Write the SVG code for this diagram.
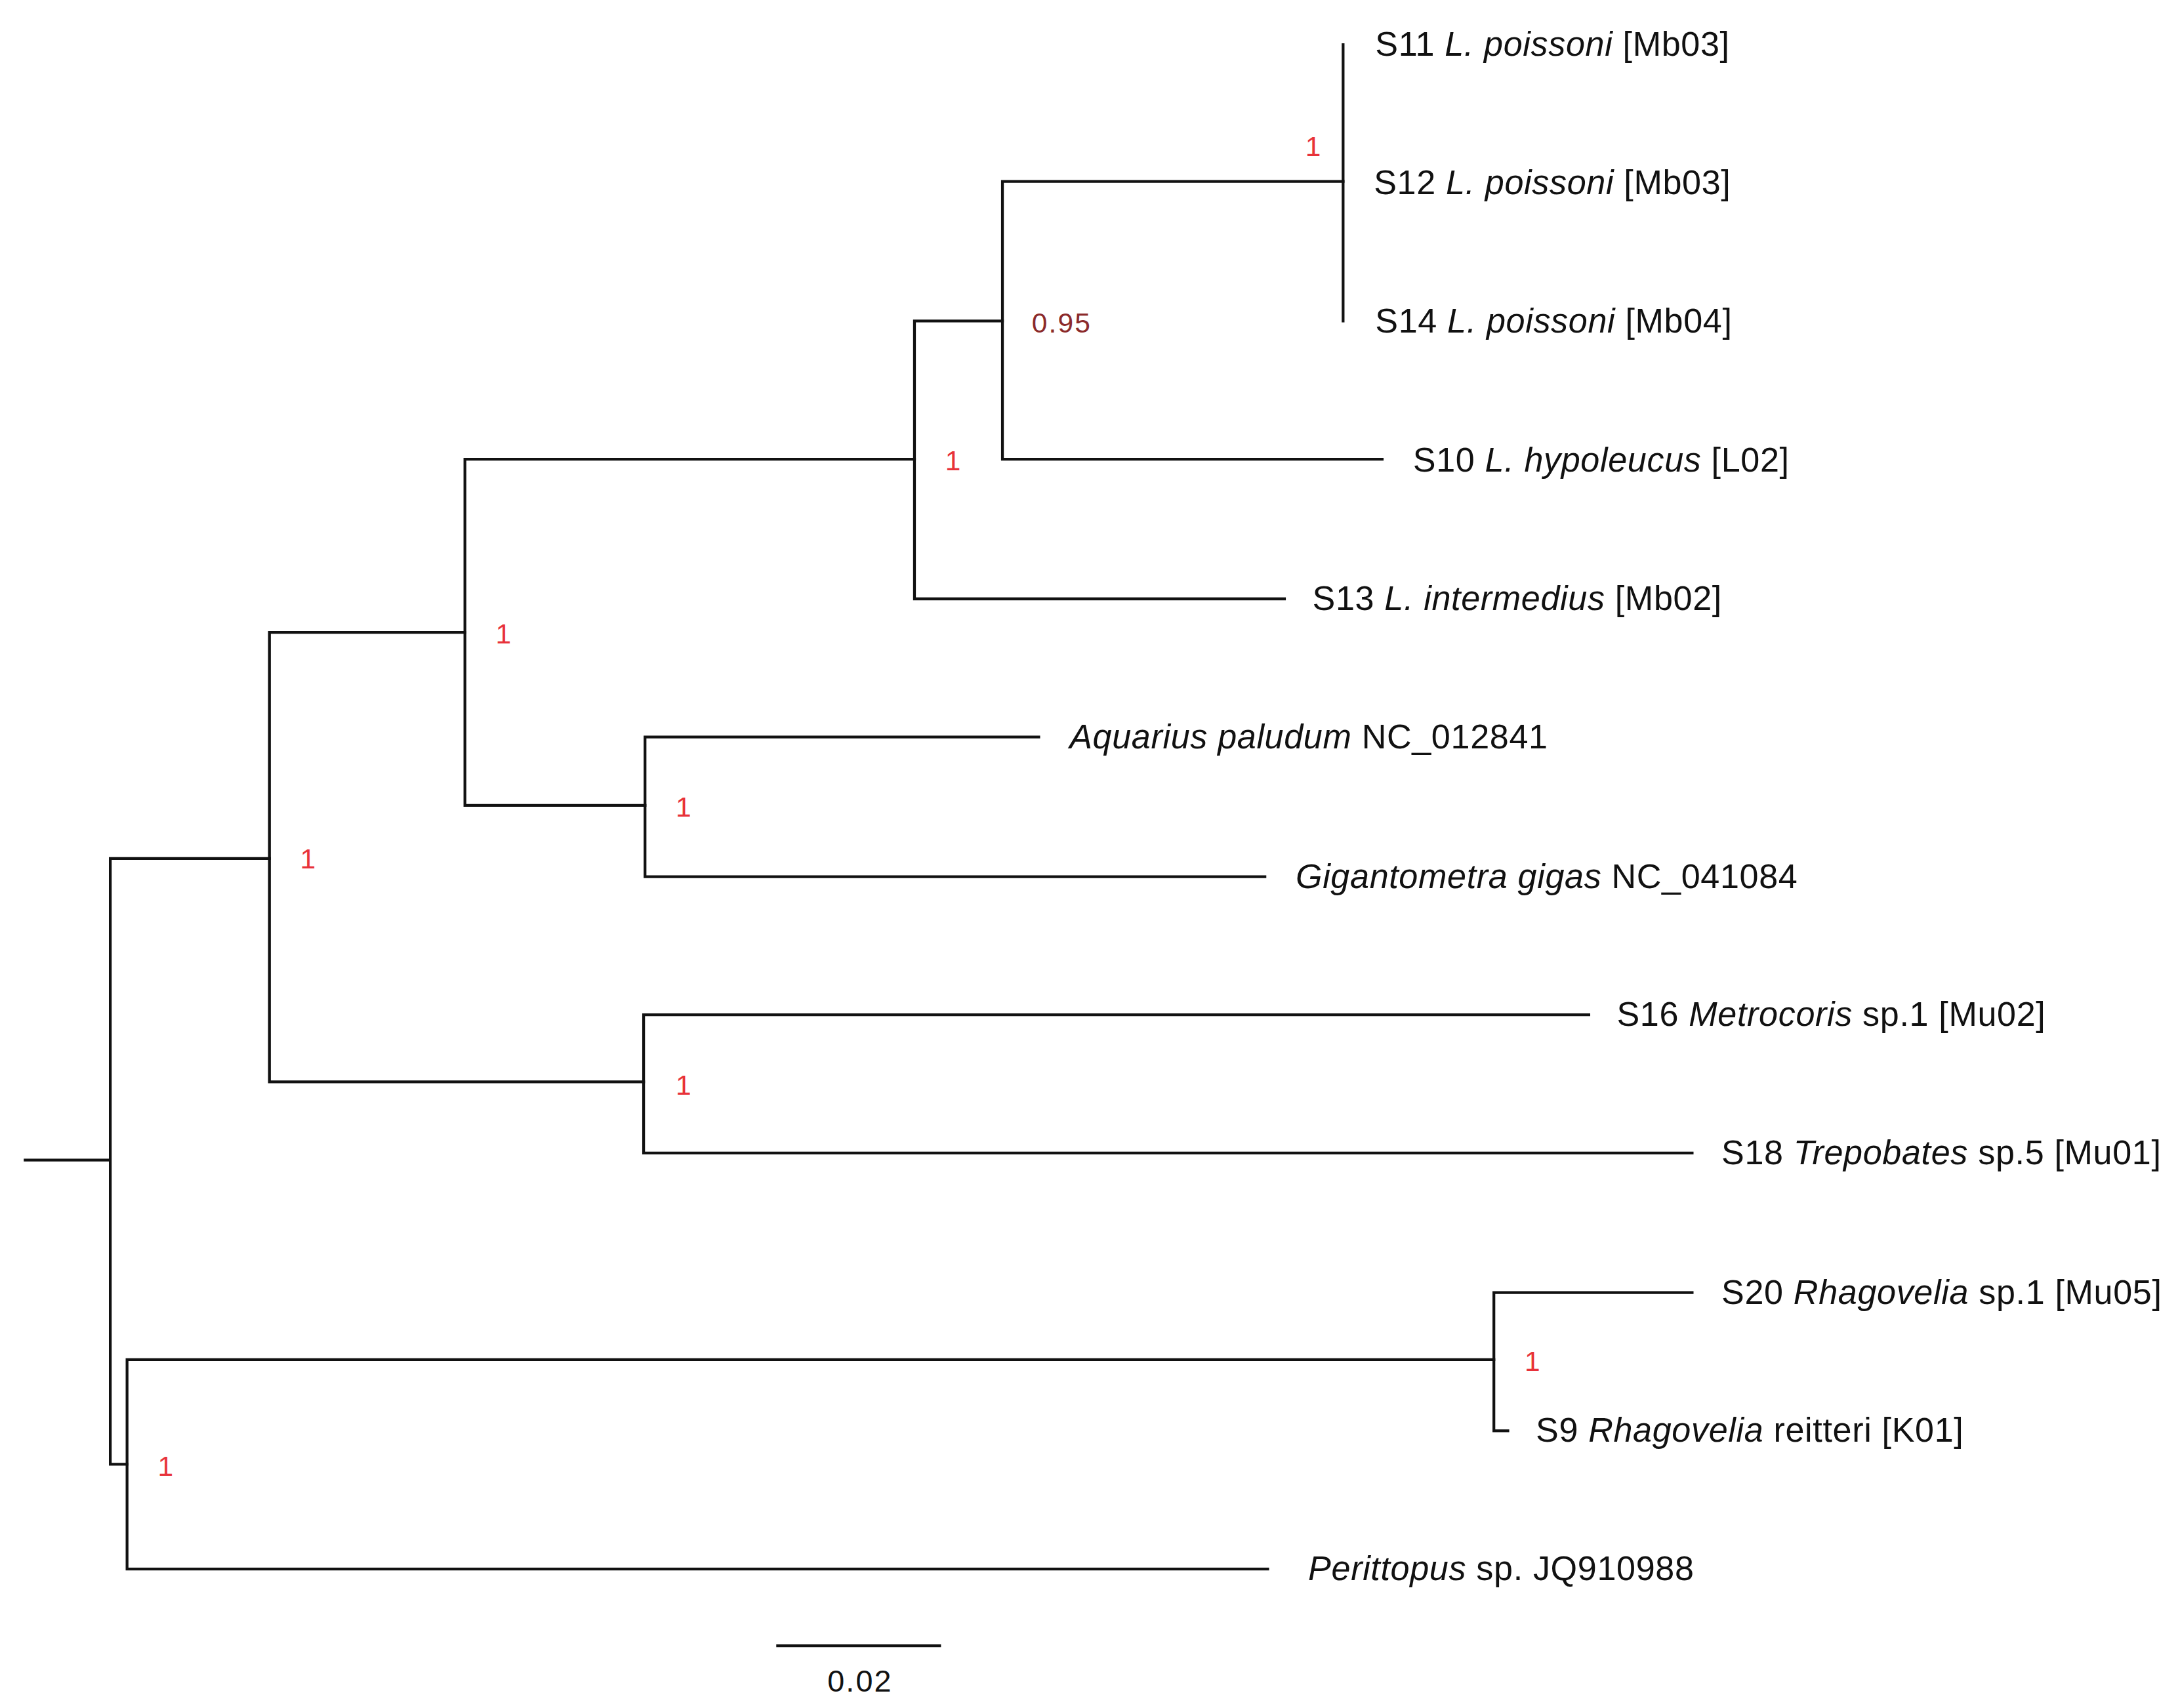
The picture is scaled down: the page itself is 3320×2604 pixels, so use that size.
<svg xmlns="http://www.w3.org/2000/svg" width="3320" height="2604" viewBox="0 0 3320 2604">
<style>
.br{stroke:#111;stroke-width:2;fill:none;stroke-linecap:square}
.lb{font-family:"Liberation Sans",Arial,sans-serif;font-size:24.5px;fill:#111;letter-spacing:0.3px}
.sp{font-family:"Liberation Sans",Arial,sans-serif;font-size:20px;fill:#e8323a;letter-spacing:1px}
.it{font-style:italic}
</style>
<rect width="3320" height="2604" fill="#fff"/>
<g transform="scale(2.1282)">
<g id="connectors" class="br">
<path d="M18,831H79M79,615V1049M79,615H193M79,1049H91"/>
<path d="M193,453V775M193,453H333M193,775H461"/>
<path d="M333,329V577M333,329H655M333,577H462"/>
<path d="M655,230V429M655,230H718M655,429H920"/>
<path d="M718,130V329M718,130H962M718,329H990"/>
<path d="M962,32V230"/>
<path d="M462,528V628M462,528H744M462,628H906"/>
<path d="M461,727V826M461,727H1138M461,826H1212"/>
<path d="M91,974V1124M91,974H1070M91,1124H908"/>
<path d="M1070,926V1025M1070,926H1212M1070,1025H1080"/>
<path d="M557,1179H673"/>
</g>
<g id="n-S11"><text class="lb" x="985" y="40">S11 <tspan class="it">L. poissoni</tspan> [Mb03]</text></g>
<g id="n-S12"><text class="lb" x="984" y="139">S12 <tspan class="it">L. poissoni</tspan> [Mb03]</text></g>
<g id="n-S14"><text class="lb" x="985" y="238">S14 <tspan class="it">L. poissoni</tspan> [Mb04]</text></g>
<g id="n-S10"><text class="lb" x="1012" y="338">S10 <tspan class="it">L. hypoleucus</tspan> [L02]</text></g>
<g id="n-S13"><text class="lb" x="940" y="437">S13 <tspan class="it">L. intermedius</tspan> [Mb02]</text></g>
<g id="n-Aq"><text class="lb" x="766" y="536"><tspan class="it">Aquarius paludum</tspan> NC_012841</text></g>
<g id="n-Gi"><text class="lb" x="928" y="636"><tspan class="it">Gigantometra gigas</tspan> NC_041084</text></g>
<g id="n-S16"><text class="lb" x="1158" y="735">S16 <tspan class="it">Metrocoris</tspan> sp.1 [Mu02]</text></g>
<g id="n-S18"><text class="lb" x="1233" y="834">S18 <tspan class="it">Trepobates</tspan> sp.5 [Mu01]</text></g>
<g id="n-S20"><text class="lb" x="1233" y="934">S20 <tspan class="it">Rhagovelia</tspan> sp.1 [Mu05]</text></g>
<g id="n-S9"><text class="lb" x="1100" y="1033">S9 <tspan class="it">Rhagovelia</tspan> reitteri [K01]</text></g>
<g id="n-Pe"><text class="lb" x="937" y="1132"><tspan class="it">Perittopus</tspan> sp. JQ910988</text></g>
<g id="supports">
<text class="sp" x="935" y="112">1</text>
<text class="sp" x="739" y="238" style="fill:#8b2a2a">0.95</text>
<text class="sp" x="677" y="337">1</text>
<text class="sp" x="355" y="461">1</text>
<text class="sp" x="484" y="585">1</text>
<text class="sp" x="215" y="622">1</text>
<text class="sp" x="484" y="784">1</text>
<text class="sp" x="1092" y="982">1</text>
<text class="sp" x="113" y="1057">1</text>
</g>
<g id="scale"><text class="lb" x="616" y="1212" text-anchor="middle" style="font-size:22px;letter-spacing:1px">0.02</text></g>
</g>
</svg>
